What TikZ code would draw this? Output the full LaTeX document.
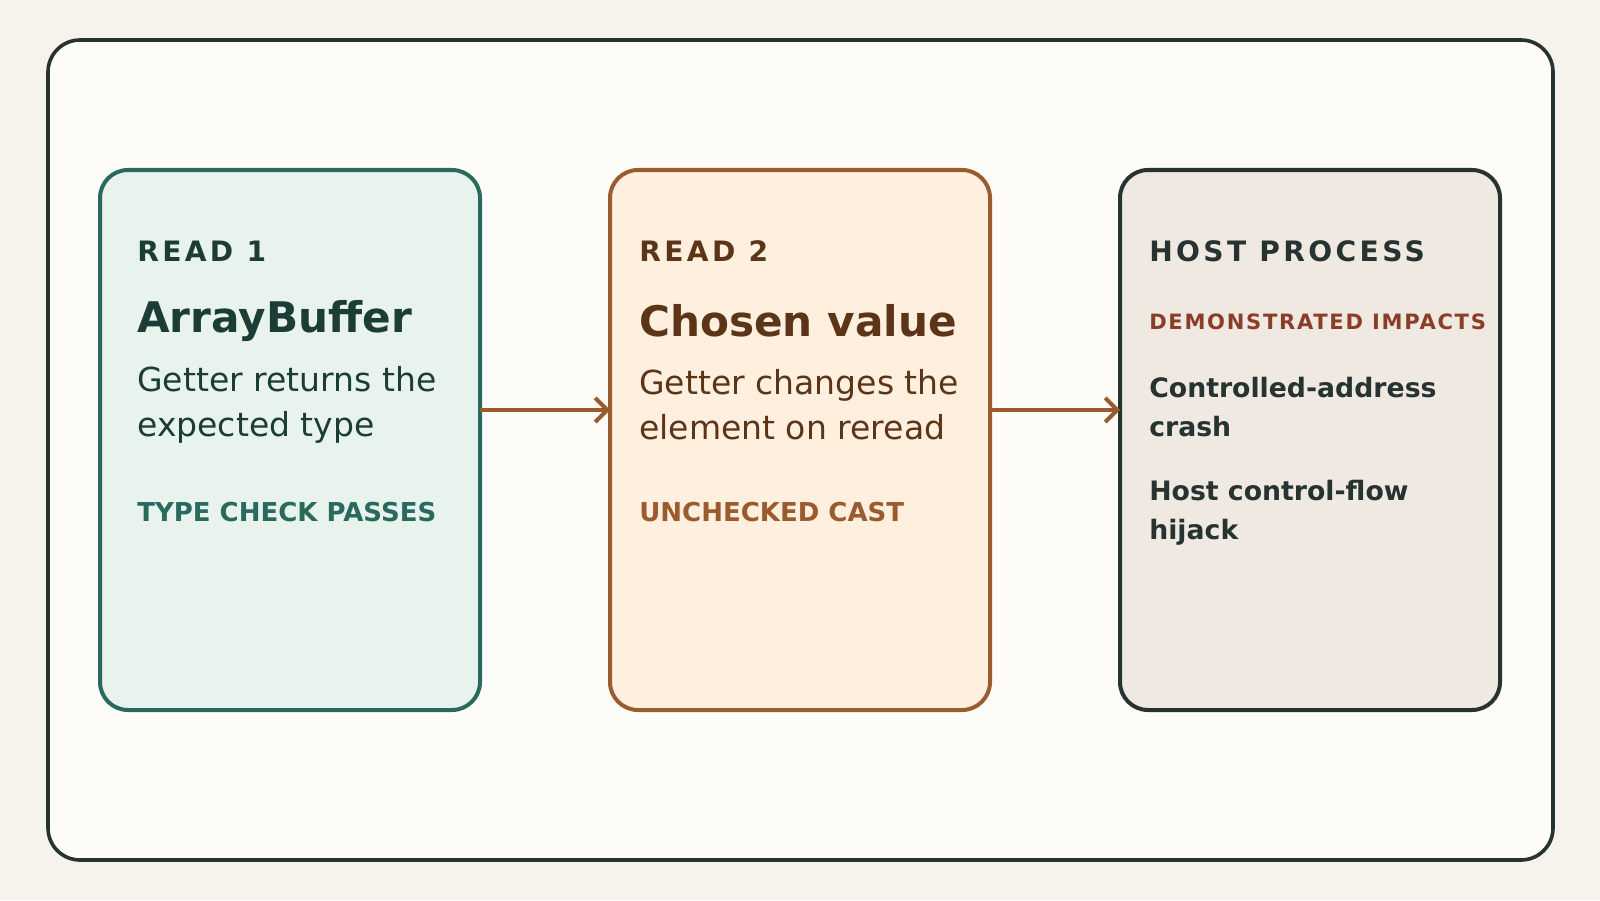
\documentclass[tikz,border=0pt]{standalone}
\usepackage{fontspec}
\setmainfont{DejaVu Sans}
\usetikzlibrary{arrows.meta,positioning}
\definecolor{pagebg}{HTML}{F6F3EC}
\definecolor{framebg}{HTML}{FDFCF8}
\definecolor{ink}{HTML}{263330}
\definecolor{greenfill}{HTML}{E7F3EC}
\definecolor{greenline}{HTML}{2A6A5E}
\definecolor{greentext}{HTML}{1C3D36}
\definecolor{orangefill}{HTML}{FEEFDF}
\definecolor{orangeline}{HTML}{9A5C2E}
\definecolor{orangetext}{HTML}{5C3519}
\definecolor{greyfill}{HTML}{EFE9E1}
\definecolor{redtext}{HTML}{8A3E2A}
\begin{document}
\begin{tikzpicture}[x=0.25mm,y=-0.25mm,
  stage box/.style={rounded corners=7mm, line width=1mm},
  txt/.style={anchor=west, inner sep=0pt, align=left},
  kicker/.style={txt, font=\fontsize{20}{24}\selectfont\bfseries\addfontfeature{LetterSpace=12}},
  heading/.style={txt, font=\fontsize{30}{36}\selectfont\bfseries},
  body/.style={txt, font=\fontsize{23.5}{32}\selectfont},
  tag/.style={txt, font=\fontsize{18.5}{22}\selectfont\bfseries},
  impact/.style={txt, font=\fontsize{19}{28}\selectfont\bfseries},
  flow/.style={-{Straight Barb[length=3mm,width=6mm]}, line width=1mm, orangeline}]
  \fill[pagebg] (0,0) rectangle (1600,900);
  \draw[ink, fill=framebg, line width=0.9mm, rounded corners=8mm] (48,40) rectangle (1553,860);
  % stages
  \draw[stage box, greenline, fill=greenfill] (100,170) rectangle (480,710);
  \draw[stage box, orangeline, fill=orangefill] (610,170) rectangle (990,710);
  \draw[stage box, ink, fill=greyfill] (1120,170) rectangle (1500,710);
  \coordinate (r1) at (480,410);
  \coordinate (l2) at (610,410);
  \coordinate (r2) at (990,410);
  \coordinate (l3) at (1120,410);
  \draw[flow] (r1) -- (l2);
  \draw[flow] (r2) -- (l3);
  % read 1
  \node[kicker, greentext] (k1) at (137,251) {READ 1};
  \node[heading, greentext] (h1) at (137,321) {ArrayBuffer};
  \node[body, greentext] (b1) at (137,405) {Getter returns the\\expected type};
  \node[tag, greenline] (t1) at (137,512) {TYPE CHECK PASSES};
  % read 2
  \node[kicker, orangetext] (k2) at (639,251) {READ 2};
  \node[heading, orangetext] (h2) at (639,321) {Chosen value};
  \node[body, orangetext] (b2) at (639,405) {Getter changes the\\element on reread};
  \node[tag, orangeline] (t2) at (639,512) {UNCHECKED CAST};
  % host
  \node[kicker, ink] (k3) at (1149,251) {HOST PROCESS};
  \node[txt, redtext, font=\fontsize{15}{18}\selectfont\bfseries\addfontfeature{LetterSpace=8}] (d3) at (1149,322) {DEMONSTRATED IMPACTS};
  \node[impact, ink] (i1) at (1149,407) {Controlled-address\\crash};
  \node[impact, ink] (i2) at (1149,513) {Host control-flow\\hijack};
\end{tikzpicture}
\end{document}
